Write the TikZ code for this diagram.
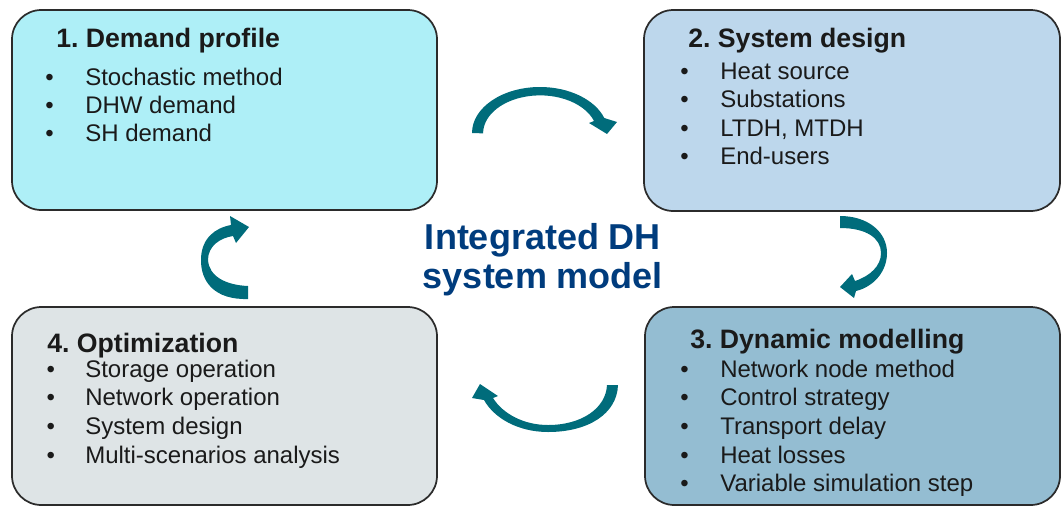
\documentclass[tikz,border=0pt]{standalone}
\usepackage{fontspec}
\setmainfont{Liberation Sans}
\frenchspacing
\definecolor{demand}{HTML}{AEEFF7}
\definecolor{design}{HTML}{BDD7EC}
\definecolor{dynamic}{HTML}{94BDD2}
\definecolor{optim}{HTML}{DEE4E6}
\definecolor{arrowteal}{HTML}{006C7B}
\definecolor{modelblue}{HTML}{003C7D}
\definecolor{ink}{HTML}{1A1A1A}

\begin{document}
\begin{tikzpicture}[x=0.75pt,y=0.75pt,yscale=-1,xscale=1,
	panel/.style={draw={rgb, 255:red, 43; green, 43; blue, 43}, line width=1.3pt, rounded corners=22pt, inner sep=0pt},
	heading/.style={anchor=base west, inner sep=0pt, text=ink, font=\fontsize{20}{24}\selectfont\bfseries},
	item/.style={anchor=base west, inner sep=0pt, text=ink, font=\fontsize{18}{21}\selectfont},
	model/.style={anchor=base, inner sep=0pt, text=modelblue, font=\fontsize{27}{32}\selectfont\bfseries},
	cyclearrow/.style={fill=arrowteal}]
	\useasboundingbox (0,0) rectangle (1062,507);
	% the four panels
	\node [panel, fill=demand, minimum width=318.75pt, minimum height=150pt] (demand) at (224.5,110) {};
	\node [panel, fill=design, minimum width=312pt, minimum height=150.75pt] (design) at (852,110.5) {};
	\node [panel, fill=dynamic, minimum width=311.25pt, minimum height=148.5pt] (dynamic) at (852.5,406) {};
	\node [panel, fill=optim, minimum width=318.75pt, minimum height=148.5pt] (optim) at (224.5,406) {};
	% headings
	\node [heading] (demandtitle) at (56,47) {1. Demand profile};
	\node [heading] (designtitle) at (688,47) {2. System design};
	\node [heading] (dynamictitle) at (690,348) {3. Dynamic modelling};
	\node [heading] (optimtitle) at (47,352) {4. Optimization};
	% bullet lists
	\foreach \txt [count=\i] in {Stochastic method, DHW demand, SH demand}
		\node [item] (demand\i) at (85,{85+28.4*(\i-1)}) {\llap{\makebox[30pt][l]{\textbullet}}\txt};
	\foreach \txt [count=\i] in {Heat source, Substations, {LTDH, MTDH}, End-users}
		\node [item] (design\i) at (720,{79+28.6*(\i-1)}) {\llap{\makebox[30pt][l]{\textbullet}}\txt};
	\foreach \txt [count=\i] in {Network node method, Control strategy, Transport delay, Heat losses, Variable simulation step}
		\node [item] (dynamic\i) at (720,{377+28.7*(\i-1)}) {\llap{\makebox[30pt][l]{\textbullet}}\txt};
	\foreach \txt [count=\i] in {Storage operation, Network operation, System design, Multi-scenarios analysis}
		\node [item] (optim\i) at (85,{377+28.7*(\i-1)}) {\llap{\makebox[29pt][l]{\textbullet}}\txt};
	% centre text
	\node [model] (model1) at (543,249) {Integrated DH};
	\node [model] (model2) at (543,288) {system model};
	% cycle arrows
	\fill [cyclearrow] (472,133) arc [start angle=180, end angle=341, x radius=68, y radius=46] -- (617,122) -- (607,134) -- (589,123) -- (594,121) arc [start angle=341, end angle=180, x radius=57, y radius=38] -- cycle ;
	\fill [cyclearrow] (840,216) .. controls (868,216) and (887,232) .. (887,253) .. controls (887,272) and (873,287) .. (856,291) -- (854,298) -- (840,287) -- (852,274) -- (855,281) .. controls (870,276) and (881,266) .. (881,253) .. controls (881,238) and (866,228) .. (840,228) -- cycle ;
	\fill [cyclearrow] (618,385) .. controls (617,414) and (588,432) .. (548,432) .. controls (518,432) and (494,418) .. (484,400) -- (472,398) -- (480,384) -- (498,396) -- (493,398) .. controls (503,414) and (524,425) .. (548,425) .. controls (582,425) and (606,408) .. (607,385) -- cycle ;
	\fill [cyclearrow] (248,299) .. controls (215,300) and (200,282) .. (201,258) .. controls (202,238) and (215,228) .. (231,225) -- (230,216) -- (249,227) -- (236,243) -- (233,236) .. controls (220,238) and (208,246) .. (208,260) .. controls (209,276) and (225,285) .. (248,286) -- cycle ;
\end{tikzpicture}
\end{document}
